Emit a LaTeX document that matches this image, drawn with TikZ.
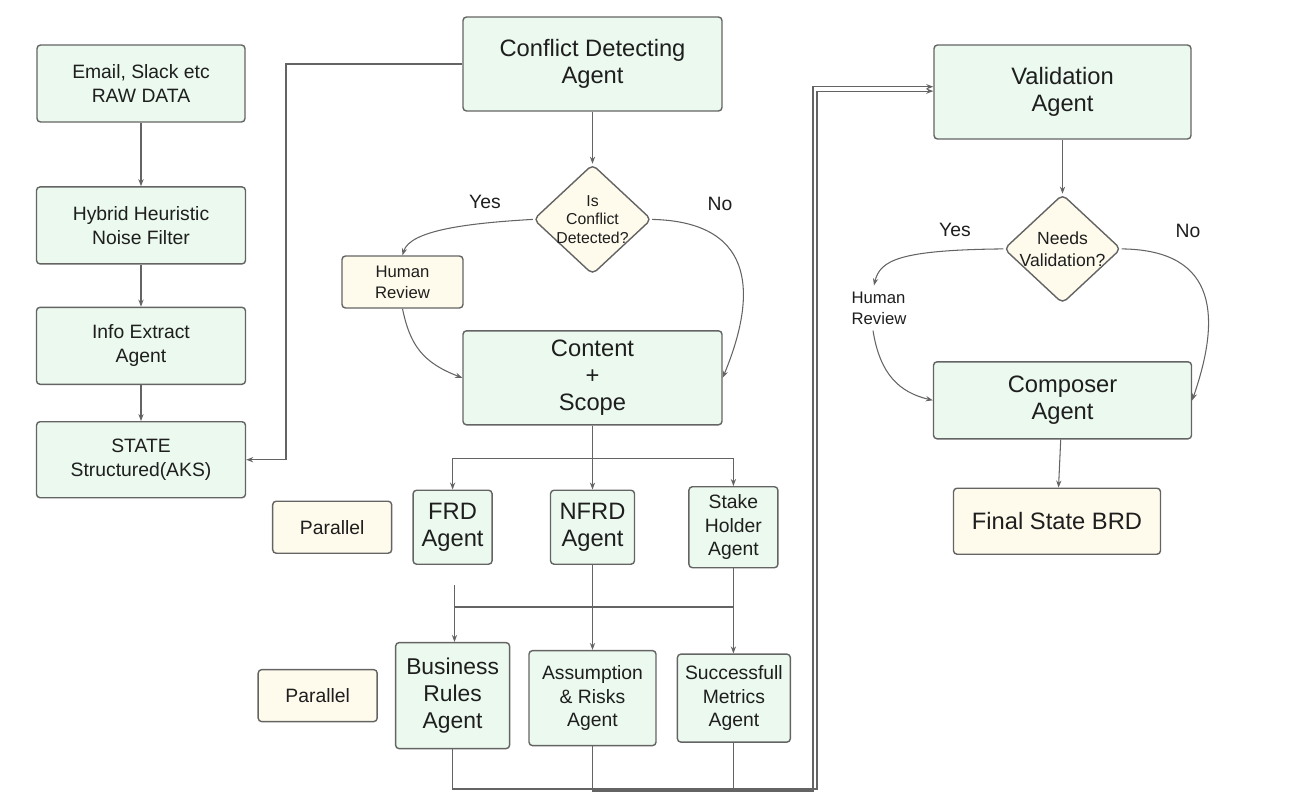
\documentclass[tikz,border=0pt]{standalone}
\usepackage{fontspec}
\setmainfont{Liberation Sans}
\usetikzlibrary{shapes.geometric, arrows.meta, positioning}

\definecolor{agentgreen}{RGB}{235,249,239}
\definecolor{noteyellow}{RGB}{255,251,236}
\definecolor{edgegray}{RGB}{100,100,100}
\definecolor{inkblack}{RGB}{30,30,30}

\begin{document}
\begin{tikzpicture}[
    big/.style = {font=\fontsize{13.5}{15.5}\selectfont},
    mid/.style = {font=\fontsize{11}{13.5}\selectfont},
    small/.style = {font=\fontsize{9.5}{12}\selectfont},
    agent/.style = {rectangle, draw=edgegray, line width=0.8pt, fill=agentgreen, rounded corners=2pt, align=center, inner sep=1pt, text=inkblack, big},
    note/.style = {rectangle, draw=edgegray, line width=0.8pt, fill=noteyellow, rounded corners=2pt, align=center, inner sep=1pt, text=inkblack, mid},
    decision/.style = {diamond, draw=edgegray, line width=0.8pt, fill=noteyellow, rounded corners=3pt, align=center, inner sep=-6pt, text=inkblack},
    answer/.style = {text=inkblack, mid},
    link/.style = {draw=edgegray, line width=0.6pt, ->},
    wire/.style = {draw=edgegray, line width=0.6pt},
    >={Stealth[length=4pt, width=3pt]}]

    \useasboundingbox (0,0) rectangle (26,-16.14);

    % input column
    \node[agent, mid, minimum width=4.16cm, minimum height=1.54cm] (email) at (2.82,-1.67) {Email, Slack etc\\RAW DATA};
    \node[agent, mid, minimum width=4.18cm, minimum height=1.54cm, below=1.27cm of email] (hybrid) {Hybrid Heuristic\\Noise Filter};
    \node[agent, mid, minimum width=4.18cm, minimum height=1.54cm, below=0.84cm of hybrid] (info) {Info Extract\\Agent};
    \node[agent, mid, minimum width=4.18cm, minimum height=1.52cm, below=0.72cm of info] (state) {STATE\\Structured(AKS)};

    % conflict check
    \node[agent, minimum width=5.18cm, minimum height=1.88cm] (conflict) at (11.85,-1.28) {Conflict Detecting\\Agent};
    \node[decision, font=\fontsize{9}{10.5}\selectfont, minimum width=2.36cm, minimum height=2.2cm, below=1.04cm of conflict] (conflictq) {Is\\Conflict\\Detected?};
    \node[note, small, minimum width=2.42cm, minimum height=1.04cm] (review) at (8.05,-5.64) {Human\\Review};
    \node[agent, minimum width=5.18cm, minimum height=1.88cm, below=1.1cm of conflictq] (content) {Content\\+\\Scope};
    \node[answer] (yes1) at (9.7,-4.04) {Yes};
    \node[answer] (no1) at (14.4,-4.08) {No};

    % first parallel row
    \node[agent, minimum width=1.68cm, minimum height=1.48cm, below=1.28cm of content] (nfrd) {NFRD\\Agent};
    \node[agent, minimum width=1.58cm, minimum height=1.48cm, left=1.14cm of nfrd] (frd) {FRD\\Agent};
    \node[agent, mid, minimum width=1.78cm, minimum height=1.62cm, right=1.06cm of nfrd] (stake) {Stake\\Holder\\Agent};
    \node[note, minimum width=2.38cm, minimum height=1.04cm, left=0.4cm of frd] (par1) {Parallel};

    % second parallel row
    \node[agent, mid, minimum width=2.54cm, minimum height=1.9cm, below=1.7cm of nfrd] (risks) {Assumption\\\& Risks\\Agent};
    \node[agent, font=\fontsize{13}{15.5}\selectfont, minimum width=2.28cm, minimum height=2.12cm, left=0.36cm of risks, yshift=0.05cm] (rules) {Business\\Rules\\Agent};
    \node[agent, mid, minimum width=2.26cm, minimum height=1.76cm, right=0.4cm of risks] (metrics) {Successfull\\Metrics\\Agent};
    \node[note, minimum width=2.38cm, minimum height=1.04cm, left=0.34cm of rules] (par2) {Parallel};

    % validation side
    \node[agent, minimum width=5.14cm, minimum height=1.88cm] (valid) at (21.25,-1.84) {Validation\\Agent};
    \node[decision, font=\fontsize{10}{12.5}\selectfont, minimum width=2.34cm, minimum height=2.18cm, below=1.08cm of valid] (validq) {Needs\\Validation?};
    \node[small, text=inkblack, align=left] (review2) at (17.58,-6.16) {Human\\Review};
    \node[agent, minimum width=5.16cm, minimum height=1.54cm, below=1.14cm of validq] (composer) {Composer\\Agent};
    \node[note, big, minimum width=4.14cm, minimum height=1.32cm, below=0.96cm of composer, xshift=-0.11cm] (final) {Final State BRD};
    \node[answer] (yes2) at (19.1,-4.6) {Yes};
    \node[answer] (no2) at (23.76,-4.62) {No};

    \coordinate (backx) at (5.72,0);
    \coordinate (frdout) at (9.09,-11.7);
    \coordinate (join) at (11.86,-12.14);
    \coordinate (rulesturn) at (16.34,-15.78);
    \coordinate (risksturn) at (16.26,-15.82);

    \draw[link] (email) -- (hybrid);
    \draw[link] (hybrid) -- (info);
    \draw[link] (info) -- (state);
    \draw[link] (conflict.west) -| (backx |- state.east) -- (state.east);

    \draw[link] (conflict) -- (conflictq);
    \draw[link] (conflictq.west) .. controls (9.4,-4.46) and (8.2,-4.6) .. (review.north);
    \draw[link] (review.south) .. controls (8.2,-6.9) and (8.45,-7.25) .. (content.west);
    \draw[link] (conflictq.east) .. controls (15.2,-4.44) and (15.1,-6.0) .. (content.east);

    \draw[link] (content.south) -- ++(0,-0.66) -| (frd.north);
    \draw[link] (content.south) -- (nfrd.north);
    \draw[link] (content.south) -- ++(0,-0.66) -| (stake.north);

    \draw[link] (frdout) -- (frdout |- rules.north);
    \draw[wire] (frdout |- join) -- (stake.south |- join);
    \draw[link] (nfrd.south) -- (nfrd.south |- risks.north);
    \draw[link] (stake.south) -- (stake.south |- metrics.north);

    \draw[link] (rules.south) |- (rulesturn) |- ([yshift=0.5pt]valid.west);
    \draw[link] (risks.south) |- (risksturn) |- ([yshift=3pt]valid.west);
    \draw[wire] (metrics.south) -- (metrics.south |- rulesturn);

    \draw[link] (valid) -- (validq);
    \draw[link] (validq.west) .. controls (18.0,-5.0) and (17.6,-5.2) .. ([xshift=-0.1cm]review2.north);
    \draw[link] ([xshift=-0.12cm]review2.south) .. controls (17.6,-7.5) and (18.0,-7.85) .. (composer.west);
    \draw[link] (validq.east) .. controls (24.4,-5.0) and (24.4,-6.4) .. (composer.east);
    \draw[link] (composer) -- (final);

\end{tikzpicture}
\end{document}
